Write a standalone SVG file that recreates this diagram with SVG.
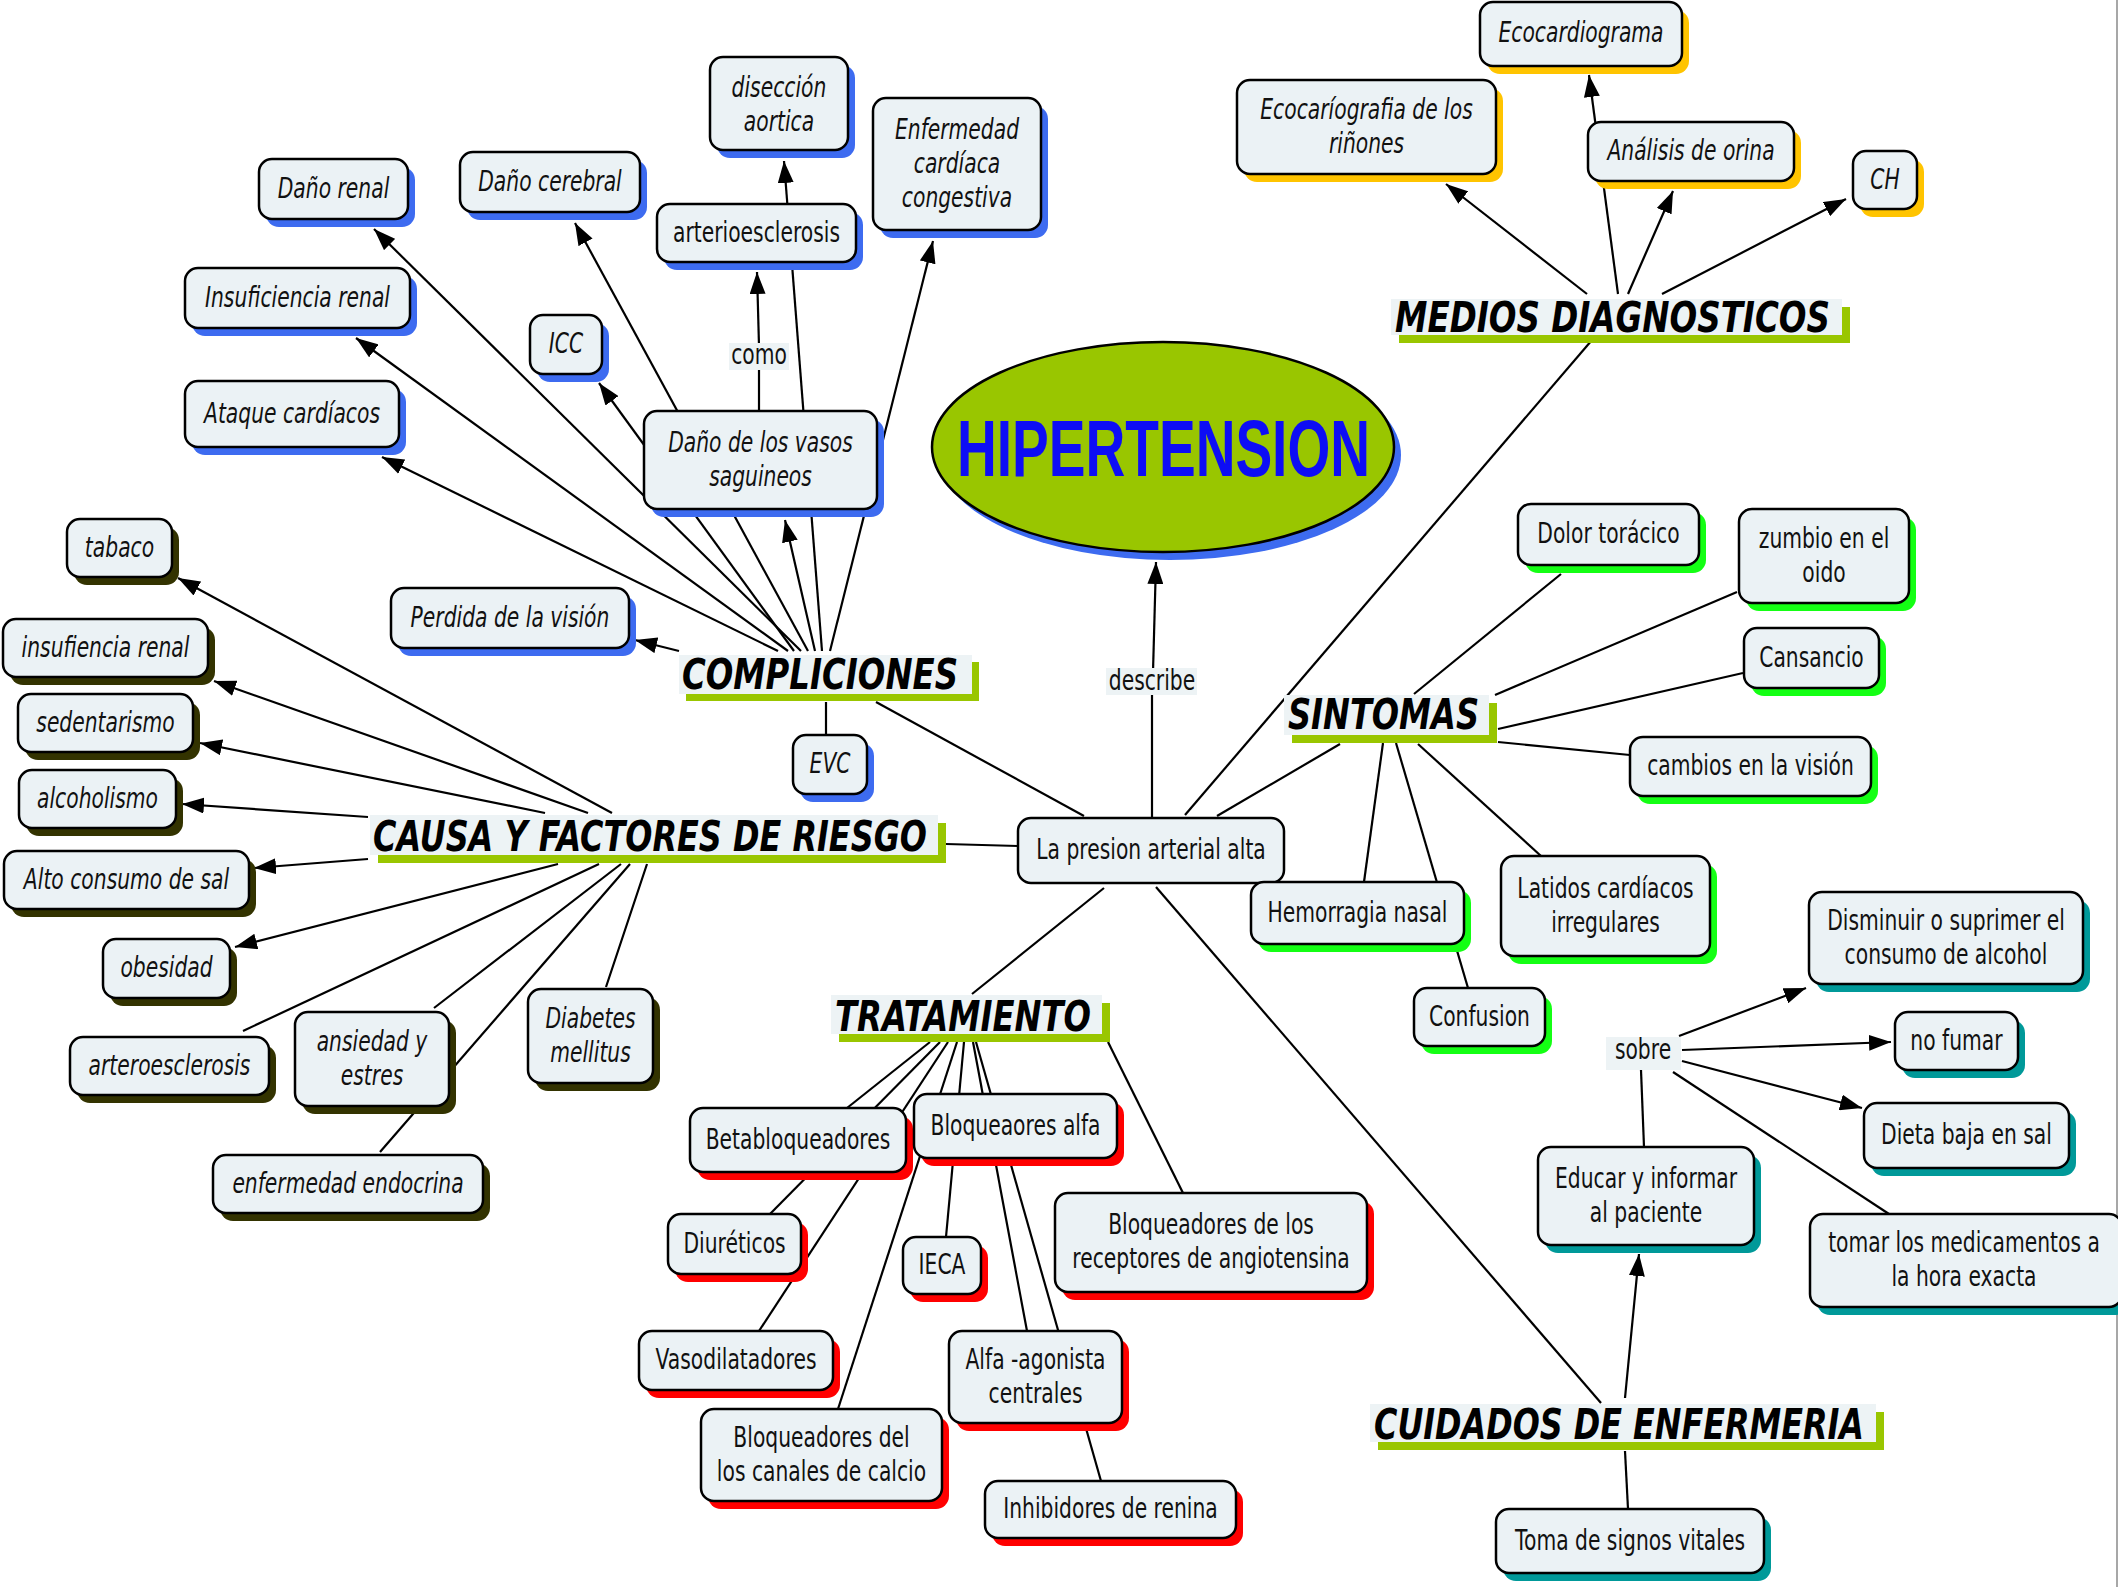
<svg xmlns="http://www.w3.org/2000/svg" width="2118" height="1587" viewBox="0 0 2118 1587">
<defs>
<marker id="ah" viewBox="0 0 22 16" refX="22" refY="8" markerWidth="22" markerHeight="16" markerUnits="userSpaceOnUse" orient="auto">
<path d="M0,0 L22,8 L0,16 z" fill="#000"/>
</marker>
<style>
.bx{fill:#ebf2f5;stroke:#000;stroke-width:2.5}
.sB{fill:#3d6bf0}.sO{fill:#333300}.sY{fill:#ffc400}.sG{fill:#14ff14}.sR{fill:#ff0000}.sT{fill:#009999}
.t{font-family:"DejaVu Sans",Verdana,sans-serif;font-size:29px;fill:#111;text-anchor:middle}
.i{font-style:italic}
.lb{font-family:"DejaVu Sans",Verdana,sans-serif;font-size:42px;font-weight:bold;font-style:italic;fill:#000}
.lbg{fill:#edf3f5}.lgr{fill:#99c600}
.lp{fill:#edf3f5}
#conn line{stroke:#000;stroke-width:2.2}
#conn line.a{marker-end:url(#ah)}
</style>
</defs>
<rect width="2118" height="1587" fill="#fff"/>
<line x1="2117" y1="0" x2="2117" y2="1587" stroke="#8a8a8a" stroke-width="1.5"/>

<g id="conn">
<line class="a" x1="778" y1="651" x2="382" y2="457"/>
<line class="a" x1="788" y1="651" x2="356" y2="338"/>
<line class="a" x1="794" y1="651" x2="599" y2="383"/>
<line class="a" x1="801" y1="651" x2="374" y2="229"/>
<line class="a" x1="808" y1="651" x2="575" y2="223"/>
<line class="a" x1="815" y1="651" x2="785" y2="520"/>
<line class="a" x1="822" y1="651" x2="784" y2="161"/>
<line class="a" x1="830" y1="651" x2="933" y2="241"/>
<line class="a" x1="679" y1="651" x2="635" y2="640"/>
<line x1="759" y1="410" x2="759" y2="365"/>
<line class="a" x1="759" y1="346" x2="757" y2="272"/>
<line class="a" x1="612" y1="813" x2="178" y2="578"/>
<line class="a" x1="588" y1="813" x2="214" y2="681"/>
<line class="a" x1="545" y1="813" x2="200" y2="743"/>
<line class="a" x1="368" y1="817" x2="182" y2="804"/>
<line class="a" x1="368" y1="859" x2="254" y2="868"/>
<line class="a" x1="558" y1="864" x2="235" y2="947"/>
<line x1="599" y1="864" x2="243" y2="1031"/>
<line x1="621" y1="864" x2="434" y2="1008"/>
<line x1="630" y1="864" x2="380" y2="1152"/>
<line x1="647" y1="864" x2="606" y2="987"/>
<line x1="946" y1="844" x2="1018" y2="846"/>
<line x1="876" y1="702" x2="1084" y2="816"/>
<line x1="826" y1="702" x2="826" y2="735"/>
<line x1="1152" y1="818" x2="1152" y2="690"/>
<line class="a" x1="1153" y1="672" x2="1156" y2="562"/>
<line x1="1185" y1="815" x2="1592" y2="340"/>
<line x1="1217" y1="816" x2="1340" y2="744"/>
<line x1="1104" y1="888" x2="972" y2="994"/>
<line x1="1156" y1="887" x2="1601" y2="1403"/>
<line class="a" x1="1587" y1="294" x2="1446" y2="184"/>
<line class="a" x1="1618" y1="294" x2="1589" y2="75"/>
<line class="a" x1="1628" y1="294" x2="1673" y2="191"/>
<line class="a" x1="1662" y1="294" x2="1846" y2="199"/>
<line x1="1414" y1="694" x2="1561" y2="574"/>
<line x1="1495" y1="695" x2="1737" y2="592"/>
<line x1="1498" y1="729" x2="1743" y2="673"/>
<line x1="1498" y1="742" x2="1630" y2="755"/>
<line x1="1383" y1="743" x2="1364" y2="882"/>
<line x1="1396" y1="743" x2="1468" y2="988"/>
<line x1="1418" y1="744" x2="1541" y2="856"/>
<line x1="930" y1="1042" x2="847" y2="1108"/>
<line x1="940" y1="1042" x2="770" y2="1214"/>
<line x1="948" y1="1042" x2="759" y2="1331"/>
<line x1="957" y1="1042" x2="838" y2="1409"/>
<line x1="964" y1="1042" x2="946" y2="1237"/>
<line x1="973" y1="1042" x2="1027" y2="1331"/>
<line x1="976" y1="1042" x2="1101" y2="1481"/>
<line x1="1108" y1="1042" x2="1183" y2="1193"/>
<line class="a" x1="1625" y1="1398" x2="1639" y2="1254"/>
<line x1="1644" y1="1147" x2="1641" y2="1070"/>
<line class="a" x1="1679" y1="1036" x2="1806" y2="988"/>
<line class="a" x1="1682" y1="1050" x2="1891" y2="1042"/>
<line class="a" x1="1682" y1="1061" x2="1862" y2="1108"/>
<line x1="1673" y1="1072" x2="1889" y2="1214"/>
<line x1="1625" y1="1451" x2="1628" y2="1509"/>
</g>

<g id="hipertension">
<ellipse cx="1170" cy="455" rx="231" ry="105" fill="#3d6bf0"/>
<ellipse cx="1163" cy="447" rx="231" ry="105" fill="#99c600" stroke="#000" stroke-width="2.5"/>
<text x="957" y="476" textLength="413" lengthAdjust="spacingAndGlyphs" font-family="'Liberation Sans',Arial,sans-serif" font-size="80" font-weight="bold" fill="#0d0df5">HIPERTENSION</text>
</g>

<g id="lbl-complicaciones"><rect class="lgr" x="686" y="662" width="293" height="39"/><rect class="lbg" x="679" y="655" width="293" height="39"/><text class="lb" x="682" y="689" textLength="276" lengthAdjust="spacingAndGlyphs">COMPLICIONES</text></g>
<g id="lbl-causa"><rect class="lgr" x="378" y="823" width="568" height="40"/><rect class="lbg" x="370" y="815" width="568" height="40"/><text class="lb" x="373" y="851" textLength="554" lengthAdjust="spacingAndGlyphs">CAUSA Y FACTORES DE RIESGO</text></g>
<g id="lbl-medios"><rect class="lgr" x="1399" y="307" width="451" height="36"/><rect class="lbg" x="1391" y="299" width="451" height="36"/><text class="lb" x="1395" y="332" textLength="435" lengthAdjust="spacingAndGlyphs">MEDIOS DIAGNOSTICOS</text></g>
<g id="lbl-sintomas"><rect class="lgr" x="1292" y="703" width="205" height="40"/><rect class="lbg" x="1284" y="695" width="205" height="40"/><text class="lb" x="1288" y="729" textLength="191" lengthAdjust="spacingAndGlyphs">SINTOMAS</text></g>
<g id="lbl-tratamiento"><rect class="lgr" x="839" y="1003" width="271" height="39"/><rect class="lbg" x="831" y="995" width="271" height="39"/><text class="lb" x="835" y="1031" textLength="256" lengthAdjust="spacingAndGlyphs">TRATAMIENTO</text></g>
<g id="lbl-cuidados"><rect class="lgr" x="1378" y="1412" width="506" height="38"/><rect class="lbg" x="1370" y="1404" width="506" height="38"/><text class="lb" x="1374" y="1439" textLength="490" lengthAdjust="spacingAndGlyphs">CUIDADOS DE ENFERMERIA</text></g>

<g id="lp-como"><rect class="lp" x="729" y="343" width="60" height="27"/><text class="t" transform="matrix(0.7 0 0 1 759 0)" y="364">como</text></g>
<g id="lp-describe"><rect class="lp" x="1106" y="668" width="91" height="27"/><text class="t" transform="matrix(0.7 0 0 1 1152 0)" y="690">describe</text></g>
<g id="lp-sobre"><rect class="lp" x="1606" y="1037" width="75" height="33"/><text class="t" transform="matrix(0.7 0 0 1 1643 0)" y="1059">sobre</text></g>

<g id="n-presion"><rect class="bx" x="1018" y="818" width="266" height="65" rx="13"/><text class="t" transform="matrix(0.7 0 0 1 1151 0)" y="859.5">La presion arterial alta</text></g>

<g id="n-dano-renal"><rect class="sB" x="266" y="167" width="149" height="60" rx="13"/><rect class="bx" x="259" y="159" width="149" height="60" rx="13"/><text class="t i" transform="matrix(0.7 0 0 1 333.5 0)" y="198">Daño renal</text></g>
<g id="n-dano-cerebral"><rect class="sB" x="467" y="160" width="180" height="60" rx="13"/><rect class="bx" x="460" y="152" width="180" height="60" rx="13"/><text class="t i" transform="matrix(0.7 0 0 1 550 0)" y="191">Daño cerebral</text></g>
<g id="n-diseccion"><rect class="sB" x="717" y="65" width="138" height="93" rx="13"/><rect class="bx" x="710" y="57" width="138" height="93" rx="13"/><text class="t i" transform="matrix(0.7 0 0 1 779 0)" y="97">disección</text><text class="t i" transform="matrix(0.7 0 0 1 779 0)" y="131">aortica</text></g>
<g id="n-enfermedad"><rect class="sB" x="880" y="106" width="168" height="132" rx="13"/><rect class="bx" x="873" y="98" width="168" height="132" rx="13"/><text class="t i" transform="matrix(0.7 0 0 1 957 0)" y="139">Enfermedad</text><text class="t i" transform="matrix(0.7 0 0 1 957 0)" y="173">cardíaca</text><text class="t i" transform="matrix(0.7 0 0 1 957 0)" y="207">congestiva</text></g>
<g id="n-arterioesclerosis"><rect class="sB" x="664" y="212" width="199" height="58" rx="13"/><rect class="bx" x="657" y="204" width="199" height="58" rx="13"/><text class="t" transform="matrix(0.7 0 0 1 756.5 0)" y="242">arterioesclerosis</text></g>
<g id="n-insuficiencia-renal"><rect class="sB" x="192" y="276" width="225" height="60" rx="13"/><rect class="bx" x="185" y="268" width="225" height="60" rx="13"/><text class="t i" transform="matrix(0.7 0 0 1 297.5 0)" y="307">Insuficiencia renal</text></g>
<g id="n-icc"><rect class="sB" x="537" y="323" width="72" height="59" rx="13"/><rect class="bx" x="530" y="315" width="72" height="59" rx="13"/><text class="t i" transform="matrix(0.7 0 0 1 566 0)" y="353.5">ICC</text></g>
<g id="n-ataque"><rect class="sB" x="192" y="389" width="214" height="66" rx="13"/><rect class="bx" x="185" y="381" width="214" height="66" rx="13"/><text class="t i" transform="matrix(0.7 0 0 1 292 0)" y="423">Ataque cardíacos</text></g>
<g id="n-vasos"><rect class="sB" x="651" y="419" width="233" height="98" rx="13"/><rect class="bx" x="644" y="411" width="233" height="98" rx="13"/><text class="t i" transform="matrix(0.7 0 0 1 760.5 0)" y="452">Daño de los vasos</text><text class="t i" transform="matrix(0.7 0 0 1 760.5 0)" y="486">saguineos</text></g>
<g id="n-perdida"><rect class="sB" x="398" y="596" width="238" height="60" rx="13"/><rect class="bx" x="391" y="588" width="238" height="60" rx="13"/><text class="t i" transform="matrix(0.7 0 0 1 510 0)" y="627">Perdida de la visión</text></g>
<g id="n-evc"><rect class="sB" x="800" y="743" width="74" height="59" rx="13"/><rect class="bx" x="793" y="735" width="74" height="59" rx="13"/><text class="t i" transform="matrix(0.7 0 0 1 830 0)" y="773.5">EVC</text></g>

<g id="n-tabaco"><rect class="sO" x="74" y="527" width="105" height="58" rx="13"/><rect class="bx" x="67" y="519" width="105" height="58" rx="13"/><text class="t i" transform="matrix(0.7 0 0 1 119.5 0)" y="557">tabaco</text></g>
<g id="n-insufiencia"><rect class="sO" x="10" y="627" width="205" height="58" rx="13"/><rect class="bx" x="3" y="619" width="205" height="58" rx="13"/><text class="t i" transform="matrix(0.7 0 0 1 105.5 0)" y="657">insufiencia renal</text></g>
<g id="n-sedentarismo"><rect class="sO" x="25" y="702" width="175" height="58" rx="13"/><rect class="bx" x="18" y="694" width="175" height="58" rx="13"/><text class="t i" transform="matrix(0.7 0 0 1 105.5 0)" y="732">sedentarismo</text></g>
<g id="n-alcoholismo"><rect class="sO" x="26" y="778" width="157" height="58" rx="13"/><rect class="bx" x="19" y="770" width="157" height="58" rx="13"/><text class="t i" transform="matrix(0.7 0 0 1 97.5 0)" y="808">alcoholismo</text></g>
<g id="n-sal"><rect class="sO" x="11" y="859" width="245" height="58" rx="13"/><rect class="bx" x="4" y="851" width="245" height="58" rx="13"/><text class="t i" transform="matrix(0.7 0 0 1 126.5 0)" y="889">Alto consumo de sal</text></g>
<g id="n-obesidad"><rect class="sO" x="110" y="947" width="127" height="59" rx="13"/><rect class="bx" x="103" y="939" width="127" height="59" rx="13"/><text class="t i" transform="matrix(0.7 0 0 1 166.5 0)" y="977.5">obesidad</text></g>
<g id="n-arteroesclerosis"><rect class="sO" x="77" y="1045" width="199" height="58" rx="13"/><rect class="bx" x="70" y="1037" width="199" height="58" rx="13"/><text class="t i" transform="matrix(0.7 0 0 1 169.5 0)" y="1075">arteroesclerosis</text></g>
<g id="n-ansiedad"><rect class="sO" x="302" y="1020" width="154" height="94" rx="13"/><rect class="bx" x="295" y="1012" width="154" height="94" rx="13"/><text class="t i" transform="matrix(0.7 0 0 1 372 0)" y="1051">ansiedad y</text><text class="t i" transform="matrix(0.7 0 0 1 372 0)" y="1085">estres</text></g>
<g id="n-diabetes"><rect class="sO" x="535" y="997" width="125" height="94" rx="13"/><rect class="bx" x="528" y="989" width="125" height="94" rx="13"/><text class="t i" transform="matrix(0.7 0 0 1 590.5 0)" y="1028">Diabetes</text><text class="t i" transform="matrix(0.7 0 0 1 590.5 0)" y="1062">mellitus</text></g>
<g id="n-endocrina"><rect class="sO" x="220" y="1163" width="270" height="58" rx="13"/><rect class="bx" x="213" y="1155" width="270" height="58" rx="13"/><text class="t i" transform="matrix(0.7 0 0 1 348 0)" y="1193">enfermedad endocrina</text></g>

<g id="n-ecocardiograma"><rect class="sY" x="1487" y="10" width="202" height="64" rx="13"/><rect class="bx" x="1480" y="2" width="202" height="64" rx="13"/><text class="t i" transform="matrix(0.7 0 0 1 1581 0)" y="42">Ecocardiograma</text></g>
<g id="n-ecorinones"><rect class="sY" x="1244" y="88" width="259" height="94" rx="13"/><rect class="bx" x="1237" y="80" width="259" height="94" rx="13"/><text class="t i" transform="matrix(0.7 0 0 1 1366.5 0)" y="119">Ecocaríografia de los</text><text class="t i" transform="matrix(0.7 0 0 1 1366.5 0)" y="153">riñones</text></g>
<g id="n-orina"><rect class="sY" x="1595" y="130" width="206" height="59" rx="13"/><rect class="bx" x="1588" y="122" width="206" height="59" rx="13"/><text class="t i" transform="matrix(0.7 0 0 1 1691 0)" y="160.5">Análisis de orina</text></g>
<g id="n-ch"><rect class="sY" x="1860" y="159" width="64" height="58" rx="13"/><rect class="bx" x="1853" y="151" width="64" height="58" rx="13"/><text class="t i" transform="matrix(0.7 0 0 1 1885 0)" y="189">CH</text></g>

<g id="n-dolor"><rect class="sG" x="1525" y="512" width="181" height="61" rx="13"/><rect class="bx" x="1518" y="504" width="181" height="61" rx="13"/><text class="t" transform="matrix(0.7 0 0 1 1608.5 0)" y="543.5">Dolor torácico</text></g>
<g id="n-zumbio"><rect class="sG" x="1746" y="517" width="170" height="94" rx="13"/><rect class="bx" x="1739" y="509" width="170" height="94" rx="13"/><text class="t" transform="matrix(0.7 0 0 1 1824 0)" y="548">zumbio en el</text><text class="t" transform="matrix(0.7 0 0 1 1824 0)" y="582">oido</text></g>
<g id="n-cansancio"><rect class="sG" x="1751" y="636" width="135" height="60" rx="13"/><rect class="bx" x="1744" y="628" width="135" height="60" rx="13"/><text class="t" transform="matrix(0.7 0 0 1 1811.5 0)" y="667">Cansancio</text></g>
<g id="n-cambios"><rect class="sG" x="1637" y="745" width="241" height="59" rx="13"/><rect class="bx" x="1630" y="737" width="241" height="59" rx="13"/><text class="t" transform="matrix(0.7 0 0 1 1750.5 0)" y="775.5">cambios en la visión</text></g>
<g id="n-hemorragia"><rect class="sG" x="1258" y="890" width="213" height="62" rx="13"/><rect class="bx" x="1251" y="882" width="213" height="62" rx="13"/><text class="t" transform="matrix(0.7 0 0 1 1357.5 0)" y="922">Hemorragia nasal</text></g>
<g id="n-latidos"><rect class="sG" x="1508" y="864" width="209" height="100" rx="13"/><rect class="bx" x="1501" y="856" width="209" height="100" rx="13"/><text class="t" transform="matrix(0.7 0 0 1 1605.5 0)" y="898">Latidos cardíacos</text><text class="t" transform="matrix(0.7 0 0 1 1605.5 0)" y="932">irregulares</text></g>
<g id="n-confusion"><rect class="sG" x="1421" y="996" width="131" height="58" rx="13"/><rect class="bx" x="1414" y="988" width="131" height="58" rx="13"/><text class="t" transform="matrix(0.7 0 0 1 1479.5 0)" y="1026">Confusion</text></g>

<g id="n-betabloq"><rect class="sR" x="697" y="1116" width="216" height="64" rx="13"/><rect class="bx" x="690" y="1108" width="216" height="64" rx="13"/><text class="t" transform="matrix(0.7 0 0 1 798 0)" y="1149">Betabloqueadores</text></g>
<g id="n-bloqalfa"><rect class="sR" x="921" y="1102" width="203" height="64" rx="13"/><rect class="bx" x="914" y="1094" width="203" height="64" rx="13"/><text class="t" transform="matrix(0.7 0 0 1 1015.5 0)" y="1135">Bloqueaores alfa</text></g>
<g id="n-diureticos"><rect class="sR" x="675" y="1222" width="133" height="60" rx="13"/><rect class="bx" x="668" y="1214" width="133" height="60" rx="13"/><text class="t" transform="matrix(0.7 0 0 1 734.5 0)" y="1253">Diuréticos</text></g>
<g id="n-ieca"><rect class="sR" x="910" y="1245" width="78" height="57" rx="13"/><rect class="bx" x="903" y="1237" width="78" height="57" rx="13"/><text class="t" transform="matrix(0.7 0 0 1 942 0)" y="1274.5">IECA</text></g>
<g id="n-receptores"><rect class="sR" x="1062" y="1201" width="312" height="99" rx="13"/><rect class="bx" x="1055" y="1193" width="312" height="99" rx="13"/><text class="t" transform="matrix(0.7 0 0 1 1211 0)" y="1234.5">Bloqueadores de los</text><text class="t" transform="matrix(0.7 0 0 1 1211 0)" y="1268.5">receptores de angiotensina</text></g>
<g id="n-vasodilatadores"><rect class="sR" x="646" y="1339" width="194" height="59" rx="13"/><rect class="bx" x="639" y="1331" width="194" height="59" rx="13"/><text class="t" transform="matrix(0.7 0 0 1 736 0)" y="1369.5">Vasodilatadores</text></g>
<g id="n-alfaagonista"><rect class="sR" x="956" y="1339" width="173" height="92" rx="13"/><rect class="bx" x="949" y="1331" width="173" height="92" rx="13"/><text class="t" transform="matrix(0.7 0 0 1 1035.5 0)" y="1369">Alfa -agonista</text><text class="t" transform="matrix(0.7 0 0 1 1035.5 0)" y="1403">centrales</text></g>
<g id="n-calcio"><rect class="sR" x="708" y="1417" width="241" height="92" rx="13"/><rect class="bx" x="701" y="1409" width="241" height="92" rx="13"/><text class="t" transform="matrix(0.7 0 0 1 821.5 0)" y="1447">Bloqueadores del</text><text class="t" transform="matrix(0.7 0 0 1 821.5 0)" y="1481">los canales de calcio</text></g>
<g id="n-renina"><rect class="sR" x="992" y="1489" width="251" height="57" rx="13"/><rect class="bx" x="985" y="1481" width="251" height="57" rx="13"/><text class="t" transform="matrix(0.7 0 0 1 1110.5 0)" y="1518.5">Inhibidores de renina</text></g>

<g id="n-educar"><rect class="sT" x="1545" y="1155" width="216" height="98" rx="13"/><rect class="bx" x="1538" y="1147" width="216" height="98" rx="13"/><text class="t" transform="matrix(0.7 0 0 1 1646 0)" y="1188">Educar y informar</text><text class="t" transform="matrix(0.7 0 0 1 1646 0)" y="1222">al paciente</text></g>
<g id="n-alcohol"><rect class="sT" x="1816" y="900" width="274" height="92" rx="13"/><rect class="bx" x="1809" y="892" width="274" height="92" rx="13"/><text class="t" transform="matrix(0.7 0 0 1 1946 0)" y="930">Disminuir o suprimer el</text><text class="t" transform="matrix(0.7 0 0 1 1946 0)" y="964">consumo de alcohol</text></g>
<g id="n-fumar"><rect class="sT" x="1902" y="1020" width="123" height="58" rx="13"/><rect class="bx" x="1895" y="1012" width="123" height="58" rx="13"/><text class="t" transform="matrix(0.7 0 0 1 1956.5 0)" y="1050">no fumar</text></g>
<g id="n-dieta"><rect class="sT" x="1871" y="1111" width="205" height="65" rx="13"/><rect class="bx" x="1864" y="1103" width="205" height="65" rx="13"/><text class="t" transform="matrix(0.7 0 0 1 1966.5 0)" y="1144.5">Dieta baja en sal</text></g>
<g id="n-medicamentos"><rect class="sT" x="1817" y="1222" width="312" height="93" rx="13"/><rect class="bx" x="1810" y="1214" width="312" height="93" rx="13"/><text class="t" transform="matrix(0.7 0 0 1 1964 0)" y="1252.5">tomar los medicamentos a</text><text class="t" transform="matrix(0.7 0 0 1 1964 0)" y="1286.5">la hora exacta</text></g>
<g id="n-signos"><rect class="sT" x="1503" y="1517" width="268" height="64" rx="13"/><rect class="bx" x="1496" y="1509" width="268" height="64" rx="13"/><text class="t" transform="matrix(0.7 0 0 1 1630 0)" y="1550">Toma de signos vitales</text></g>
</svg>
